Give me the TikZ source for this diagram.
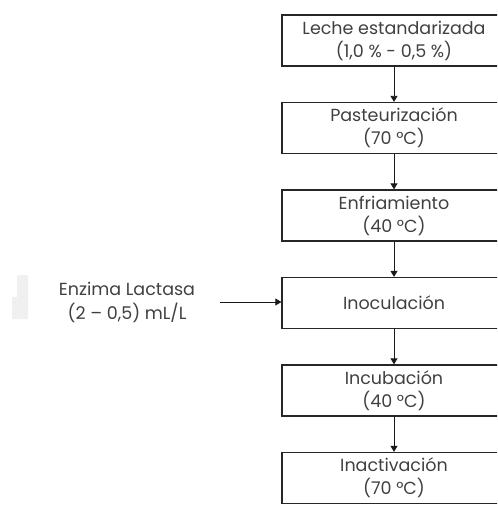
\documentclass[tikz,border=0pt]{standalone}
\usepackage{fontspec}
\setmainfont{Poppins}
\usetikzlibrary{positioning,arrows.meta}

\begin{document}
\begin{tikzpicture}[
  x=1pt, y=-1pt,
  node distance=35.2pt,
  stage/.style={draw=black!85, line width=1.3pt, minimum width=224pt, minimum height=51pt,
    inner sep=0pt, align=center, text=black!75, font=\fontsize{17.5}{23}\selectfont},
  flow/.style={draw=black!90, line width=0.9pt, -{Triangle[length=6pt,width=7pt]}},
]
\definecolor{smudge}{RGB}{240,240,240}

\clip (0,0) rectangle (497,505);
\useasboundingbox (0,0) rectangle (497,505);

% stray mark on the left
\fill [smudge] (17,275) -- (28,275) -- (28,319) -- (12,319) -- (12,297) -- (17,297) -- cycle;

\node [stage] (leche) at (394,40.5) {Leche estandarizada\\(1,0 \% - 0,5 \%)};
\node [stage, below=of leche] (pasteur) {Pasteurización\\(70 °C)};
\node [stage, below=of pasteur] (enfri) {Enfriamiento\\(40 °C)};
\node [stage, below=of enfri] (inocul) {Inoculación};
\node [stage, below=of inocul] (incub) {Incubación\\(40 °C)};
\node [stage, below=of incub] (inact) {Inactivación\\(70 °C)};

\node [align=center, text=black!75, font=\fontsize{17.5}{24}\selectfont] (enzima) at (127,302)
  {Enzima Lactasa\\(2 – 0,5) mL/L};
\coordinate (enzimaend) at (220,302);

\draw [flow] (leche) -- (pasteur);
\draw [flow] (pasteur) -- (enfri);
\draw [flow] (enfri) -- (inocul);
\draw [flow] (inocul) -- (incub);
\draw [flow] (incub) -- (inact);
\draw [flow] (enzimaend) -- (inocul.west |- enzimaend);

\end{tikzpicture}
\end{document}
